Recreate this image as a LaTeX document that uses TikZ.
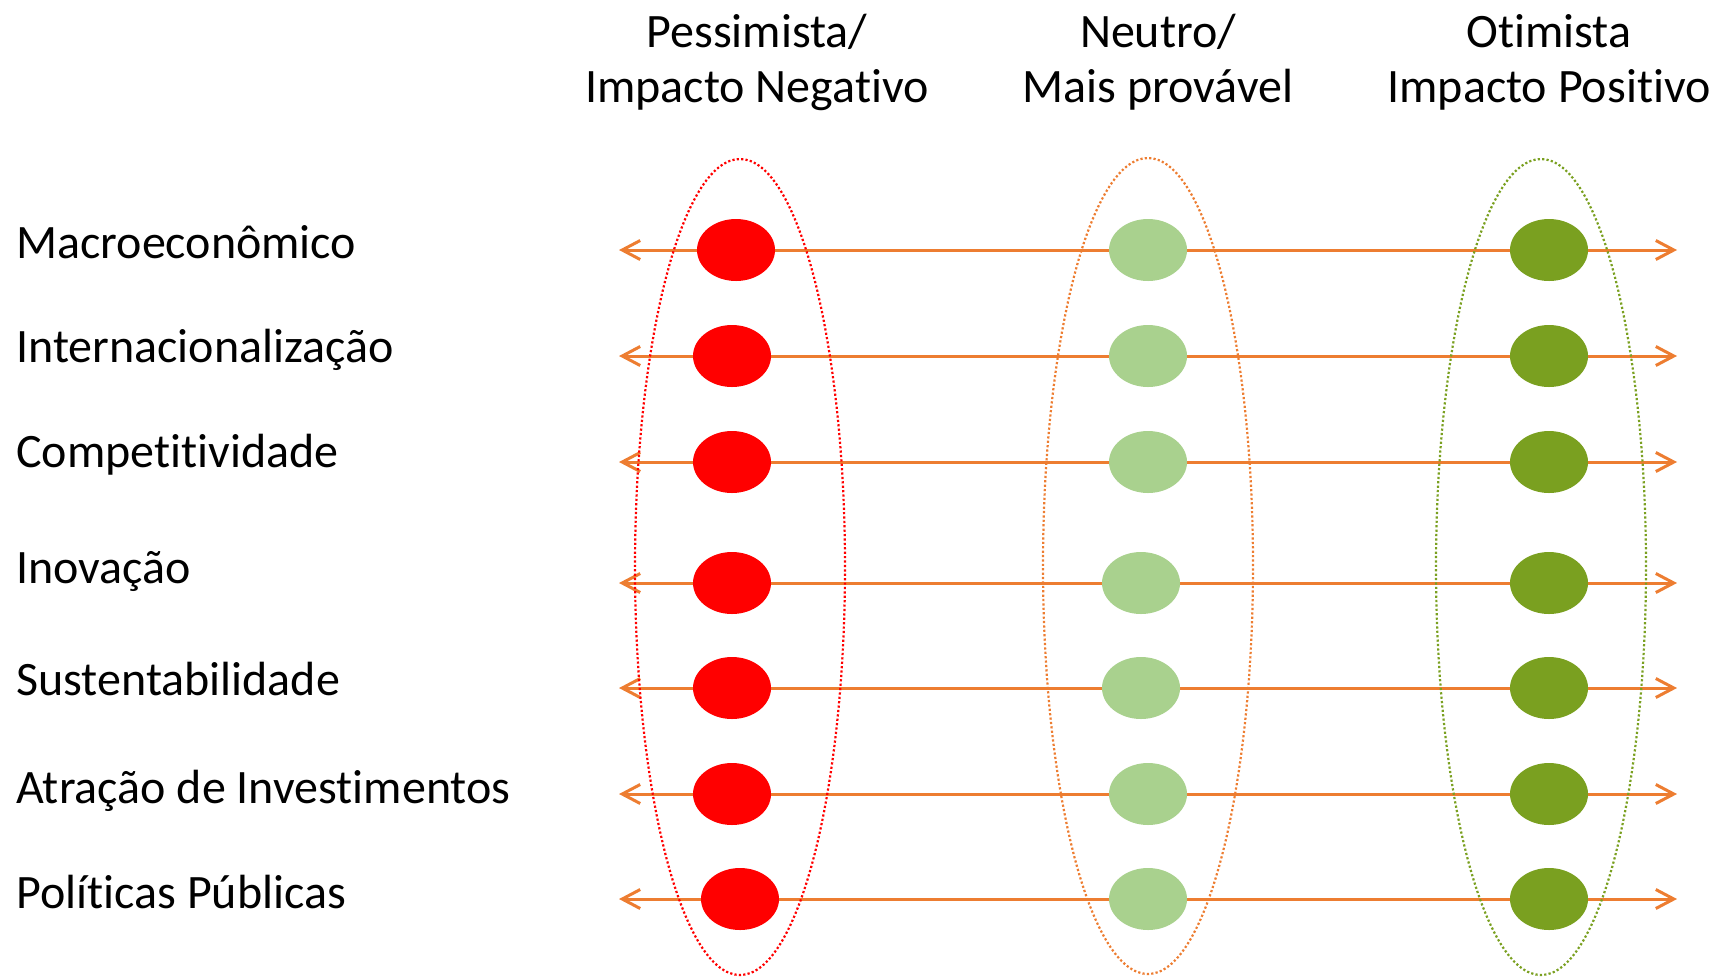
\documentclass[tikz,border=0pt]{standalone}
\usepackage{fontspec}
\setmainfont{Carlito}[RawFeature={-liga;-rlig;-clig;-calt;-dlig}]
\usetikzlibrary{shapes.geometric,arrows.meta}

\definecolor{eixolaranja}{HTML}{ED7D31}
\definecolor{negvermelho}{HTML}{FF0000}
\definecolor{neutroverde}{HTML}{A9D18E}
\definecolor{posverde}{HTML}{7AA020}

\tikzset{
  fator/.style={anchor=base west, inner sep=0pt, font=\fontsize{24}{28}\selectfont},
  cenario/.style={anchor=base, align=center, inner sep=0pt, font=\fontsize{24}{27.5}\selectfont},
  ponto/.style={ellipse, fill=#1, inner sep=0pt, minimum width=39pt, minimum height=31pt},
  grupo/.style={ellipse, draw=#1, line width=1.1pt, dash pattern=on 1.1pt off 1.1pt,
    inner sep=0pt, minimum width=105pt, minimum height=408pt},
  eixo/.style={draw=eixolaranja, line width=1.5pt,
    {Straight Barb[length=9pt,width=9.5pt]}-{Straight Barb[length=9pt,width=9.5pt]}}
}

\begin{document}
\begin{tikzpicture}[x=0.5pt,y=-0.5pt]
\useasboundingbox (0,0) rectangle (1712,976);

% Column headers (base = last line)
\node[cenario] (cneg) at (757,102) {Pessimista/\\Impacto Negativo};
\node[cenario] (cneu) at (1158,102) {Neutro/\\Mais provável};
\node[cenario] (cpos) at (1549,102) {Otimista\\Impacto Positivo};

% Factors and their axes
\foreach \nome/\y/\yb [count=\i] in {
  Macroeconômico/250/258,
  Internacionalização/356/362,
  Competitividade/462/467,
  Inovação/583/583,
  Sustentabilidade/688/695,
  Atração de Investimentos/794/803,
  Políticas Públicas/899/908}{
  \node[fator] (f\i) at (16,\yb) {\nome};
  \coordinate (esq\i) at (619,\y);
  \coordinate (dir\i) at (1677,\y);
  \draw[eixo] (esq\i) -- (dir\i);
}

% Scenario groups
\node[grupo=negvermelho] (gneg) at (740,567) {};
\node[grupo=eixolaranja] (gneu) at (1148,566) {};
\node[grupo=posverde] (gpos) at (1541,567) {};

% Points on each axis
\foreach \y/\xr/\xn [count=\i] in {250/736/1148, 356/732/1148, 462/732/1148,
  583/732/1141, 688/732/1141, 794/732/1148, 899/740/1148}{
  \node[ponto=negvermelho] (pneg\i) at (\xr,\y) {};
  \node[ponto=neutroverde] (pneu\i) at (\xn,\y) {};
  \node[ponto=posverde] (ppos\i) at (1549,\y) {};
}

\end{tikzpicture}
\end{document}
